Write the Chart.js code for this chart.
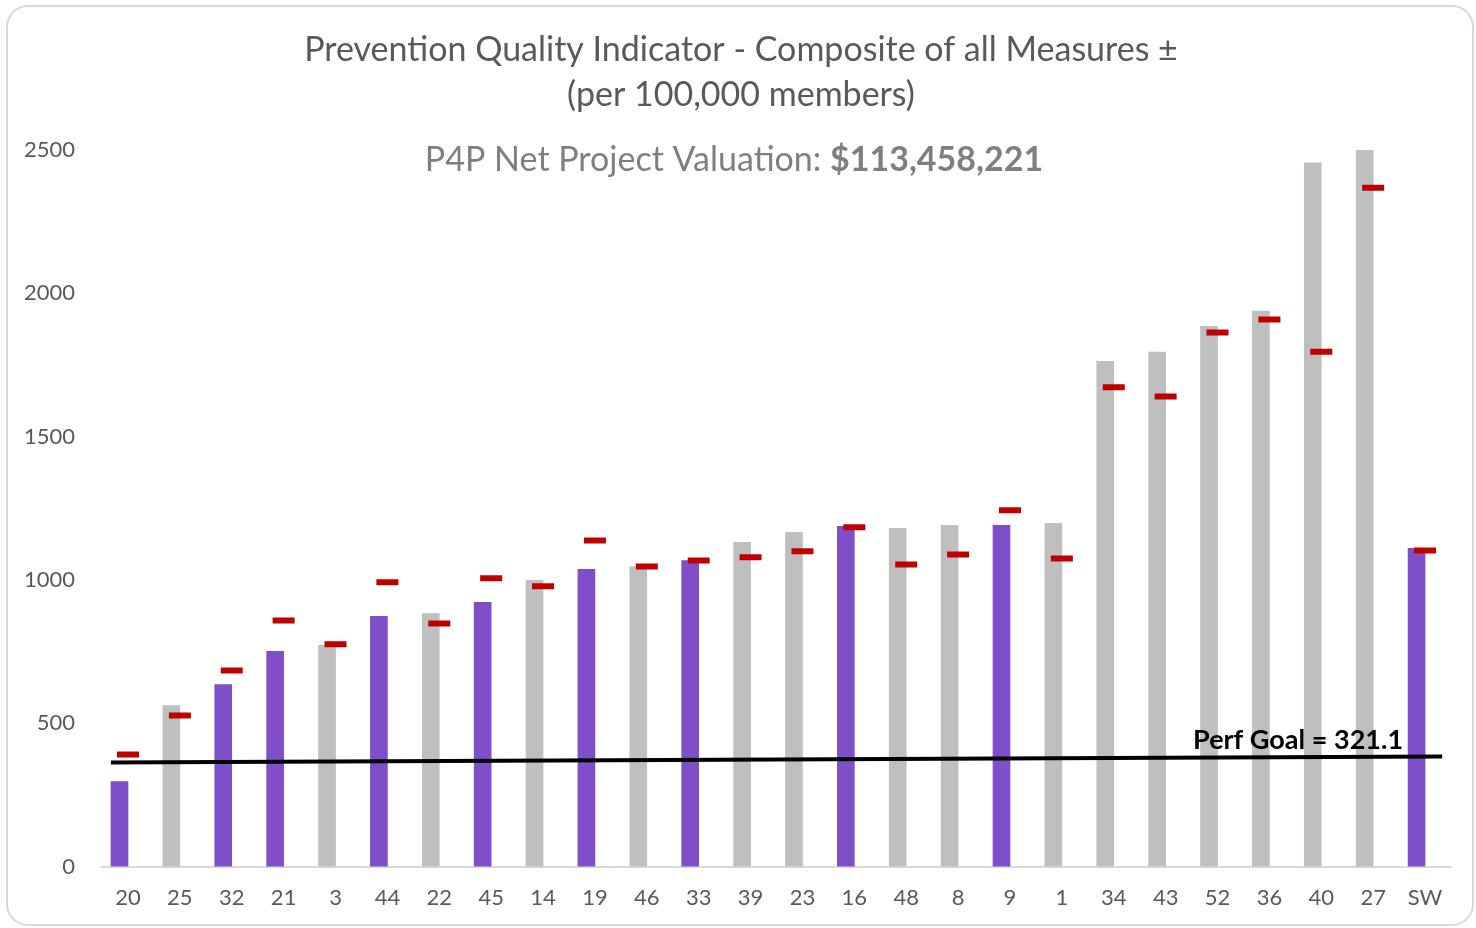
<!DOCTYPE html>
<html>
<head>
<meta charset="utf-8">
<script src="https://cdn.jsdelivr.net/npm/chart.js@4.4.1/dist/chart.umd.min.js"></script>
<style>
  body { margin: 0; background: #fff; }
  .card { position: absolute; left: 6px; top: 5px; width: 1464px; height: 917px;
          border: 2px solid #d9d9d9; border-radius: 22px; }
  .wrap { position: absolute; left: 0; top: 0; width: 1476px; height: 928px; }
</style>
</head>
<body>
<div class="card"></div>
<div class="wrap"><canvas id="pqi"></canvas></div>
<script>
// counties, sorted by rate
const counties = ['20', '25', '32', '21', '3', '44', '22', '45', '14', '19', '46', '33', '39',
                  '23', '16', '48', '8', '9', '1', '34', '43', '52', '36', '40', '27', 'SW'];
// composite rate per 100,000 members
const rates = [297, 562, 635, 751, 772, 873, 883, 922, 999, 1037, 1047, 1068, 1131,
               1166, 1187, 1180, 1191, 1191, 1198, 1763, 1795, 1885, 1938, 2455, 2500, 1110];
// red dash = prior / target value
const targets = [391, 527, 684, 859, 776, 992, 848, 1006, 978, 1138, 1047, 1068, 1079,
                 1100, 1184, 1054, 1089, 1243, 1075, 1672, 1640, 1863, 1909, 1796, 2368, 1103];
// purple bars = improved
const improved = [true, false, true, true, false, true, false, true, false, true, false, true, false,
                  false, true, false, false, true, false, false, false, false, false, false, false, true];
const goalLabel = 'Perf Goal = 321.1';
const goalLine = [363, 384];   // drawn level at start / end of the axis
const yTicks = [0, 500, 1000, 1500, 2000, 2500];

const titleLines = ['Prevention Quality Indicator - Composite of all Measures \u00b1', '(per 100,000 members)'];
const valuationLabel = 'P4P Net Project Valuation: ';
const valuationAmount = '$113,458,221';

const FONT = 'Lato, "Open Sans", sans-serif';

const headerText = {
  id: 'headerText',
  afterDraw(chart) {
    const c = chart.ctx;
    c.save();
    c.fillStyle = '#595959';
    c.textAlign = 'center';
    c.textBaseline = 'middle';
    c.font = '34px ' + FONT;
    c.fillText(titleLines[0], 741, 50);
    c.fillText(titleLines[1], 741, 95);

    // valuation line: normal + bold
    c.fillStyle = '#7f7f7f';
    c.textAlign = 'left';
    c.font = '34px ' + FONT;
    const w1 = c.measureText(valuationLabel).width;
    c.font = 'bold 34px ' + FONT;
    const w2 = c.measureText(valuationAmount).width;
    const x0 = 734 - (w1 + w2) / 2;
    c.font = '34px ' + FONT;
    c.fillText(valuationLabel, x0, 160);
    c.font = 'bold 34px ' + FONT;
    c.fillText(valuationAmount, x0 + w1, 160);

    // goal label
    const y = chart.scales.y;
    const x2 = chart.scales.x2;
    c.fillStyle = '#000';
    c.textAlign = 'right';
    c.textBaseline = 'alphabetic';
    c.font = 'bold 27px ' + FONT;
    c.fillText(goalLabel, x2.getPixelForValue(counties.length - 1) - 22, y.getPixelForValue(goalLine[1]) - 8);
    c.restore();
  }
};

new Chart(document.getElementById('pqi'), {
  data: {
    labels: counties,
    datasets: [
      {
        type: 'bar',
        data: rates,
        backgroundColor: improved.map(v => v ? '#7f4fc9' : '#bfbfbf'),
        barThickness: 17,
        order: 3
      },
      {
        type: 'line',
        xAxisID: 'x2',
        data: [{ x: -0.33, y: goalLine[0] }, { x: counties.length - 0.67, y: goalLine[1] }],
        borderColor: '#000',
        borderWidth: 4,
        pointRadius: 0,
        order: 2
      },
      {
        type: 'line',
        data: targets,
        showLine: false,
        pointStyle: 'line',
        pointRadius: 11,
        pointBorderWidth: 6,
        pointBorderColor: '#c00000',
        pointBackgroundColor: '#c00000',
        order: 1
      }
    ]
  },
  options: {
    responsive: true,
    maintainAspectRatio: false,
    animation: false,
    layout: { padding: { top: 150, left: 5, right: 25, bottom: 7 } },
    plugins: {
      legend: { display: false },
      tooltip: { enabled: false }
    },
    scales: {
      x: {
        grid: { display: false },
        border: { display: true, color: '#d9d9d9', width: 2 },
        ticks: { color: '#595959', font: { family: FONT, size: 22 }, padding: 10 }
      },
      x2: {
        type: 'linear',
        display: false,
        min: -0.5,
        max: counties.length - 0.5
      },
      y: {
        min: 0,
        max: 2500,
        afterBuildTicks: s => { s.ticks = yTicks.map(v => ({ value: v })); },
        grid: { display: false },
        border: { display: false },
        ticks: { color: '#595959', font: { family: FONT, size: 22 }, padding: 19,
                 callback: v => String(v) }
      }
    }
  },
  plugins: [headerText]
});
</script>
</body>
</html>
